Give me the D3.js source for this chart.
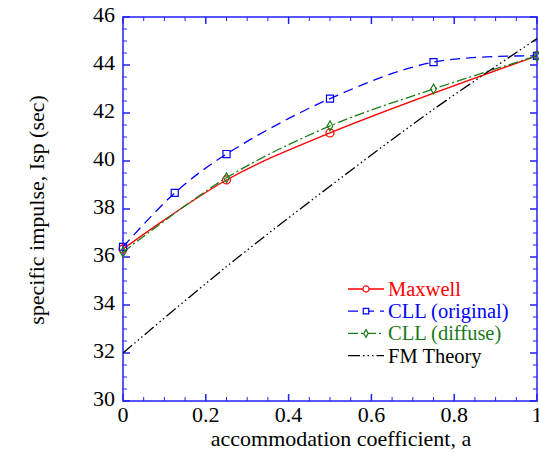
<!DOCTYPE html>
<html>
<head>
<meta charset="utf-8">
<script src="https://cdn.jsdelivr.net/npm/d3@7"></script>
<style>
  body { margin: 0; background: #fff; }
</style>
</head>
<body>
<div id="chart"></div>
<script>
// values
const maxwellX = [0, 0.25, 0.5, 1];
const maxwellY = [36.33, 39.21, 41.17, 44.38];
const cllOrigX = [0, 0.125, 0.25, 0.5, 0.75, 1];
const cllOrigY = [36.42, 38.67, 40.29, 42.6, 44.12, 44.38];
const cllDiffX = [0, 0.25, 0.5, 0.75, 1];
const cllDiffY = [36.2, 39.3, 41.46, 43.0, 44.38];
const fmX = [0, 0.25, 0.5, 0.75, 1];
const fmY = [32.0, 35.6, 38.95, 42.15, 45.1];
const xTicks = [0, 0.2, 0.4, 0.6, 0.8, 1];
const yTicks = [30, 32, 34, 36, 38, 40, 42, 44, 46];

const width = 539, height = 455;
const serif = "Liberation Serif, Times New Roman, serif";
const x = d3.scaleLinear().domain([0, 1]).range([123, 537]);
const y = d3.scaleLinear().domain([30, 46]).range([401, 17]);
const axisColor = "#2020ff";

const svg = d3.select("#chart").append("svg")
    .attr("width", width)
    .attr("height", height)
    .style("font-family", serif);

// frame
svg.append("rect")
    .attr("x", x(0)).attr("y", y(46))
    .attr("width", x(1) - x(0)).attr("height", y(30) - y(46))
    .attr("fill", "none").attr("stroke", axisColor).attr("stroke-width", 1.5);

// ticks pointing inward on all four sides
const xMinor = d3.range(0, 1.0001, 0.05);
const yMinor = d3.range(30, 46.0001, 0.5);
const tickG = svg.append("g").attr("stroke", axisColor).attr("stroke-width", 1);
xMinor.forEach(v => {
    const major = Math.abs(v * 5 - Math.round(v * 5)) < 1e-6;
    const len = major ? 7 : 4;
    tickG.append("line").attr("x1", x(v)).attr("x2", x(v)).attr("y1", y(30)).attr("y2", y(30) - len)
        .attr("stroke-width", major ? 1.5 : 1);
    tickG.append("line").attr("x1", x(v)).attr("x2", x(v)).attr("y1", y(46)).attr("y2", y(46) + len)
        .attr("stroke-width", major ? 1.5 : 1);
});
yMinor.forEach(v => {
    const major = Math.abs(v / 2 - Math.round(v / 2)) < 1e-6;
    const len = major ? 7 : 4;
    tickG.append("line").attr("y1", y(v)).attr("y2", y(v)).attr("x1", x(0)).attr("x2", x(0) + len)
        .attr("stroke-width", major ? 1.5 : 1);
    tickG.append("line").attr("y1", y(v)).attr("y2", y(v)).attr("x1", x(1)).attr("x2", x(1) - len)
        .attr("stroke-width", major ? 1.5 : 1);
});

// tick labels
svg.append("g").selectAll("text").data(xTicks).enter().append("text")
    .attr("x", d => x(d)).attr("y", 422)
    .attr("text-anchor", "middle").attr("font-size", 22)
    .style("font-family", serif)
    .text(d => d3.format("")(d));
svg.append("g").selectAll("text").data(yTicks).enter().append("text")
    .attr("x", 115).attr("y", d => y(d) + 5)
    .attr("text-anchor", "end").attr("font-size", 22)
    .style("font-family", serif)
    .text(d => d);

// axis titles
svg.append("text").attr("x", 341).attr("y", 446)
    .attr("text-anchor", "middle").attr("font-size", 22)
    .style("font-family", serif)
    .text("accommodation coefficient, a");
svg.append("text")
    .attr("transform", "translate(44," + 210 + ") rotate(-90)")
    .attr("text-anchor", "middle").attr("font-size", 22)
    .style("font-family", serif)
    .text("specific impulse, Isp (sec)");

// series
const series = [
    { name: "Maxwell", xs: maxwellX, ys: maxwellY, color: "#ff0000", dash: null, marker: "circle" },
    { name: "CLL (original)", xs: cllOrigX, ys: cllOrigY, color: "#0000ff", dash: "10,6", marker: "square" },
    { name: "CLL (diffuse)", xs: cllDiffX, ys: cllDiffY, color: "#1a7a1a", dash: "10,3,2,3", marker: "diamond" },
    { name: "FM Theory", xs: fmX, ys: fmY, color: "#000000", dash: "12,3,1.5,3,1.5,3,1.5,3", marker: null }
];

const line = d3.line().x(d => x(d[0])).y(d => y(d[1])).curve(d3.curveCatmullRom.alpha(0.5));
const symbols = { circle: d3.symbolCircle, square: d3.symbolSquare, diamond: d3.symbolDiamond };
const symSize = { circle: 50, square: 50, diamond: 28 };

const plot = svg.append("g");
series.forEach(s => {
    const pts = s.xs.map((v, i) => [v, s.ys[i]]);
    plot.append("path")
        .attr("d", line(pts))
        .attr("fill", "none")
        .attr("stroke", s.color)
        .attr("stroke-width", 1.3)
        .attr("stroke-dasharray", s.dash);
    if (s.marker) {
        plot.selectAll(null).data(pts).enter().append("path")
            .attr("d", d3.symbol().type(symbols[s.marker]).size(symSize[s.marker]))
            .attr("transform", d => "translate(" + x(d[0]) + "," + y(d[1]) + ")")
            .attr("fill", "none").attr("stroke", s.color).attr("stroke-width", 1.2);
    }
});

// legend
const legend = svg.append("g");
series.forEach((s, i) => {
    const ly = 289 + i * 22.2;
    legend.append("line")
        .attr("x1", 348).attr("x2", 384).attr("y1", ly).attr("y2", ly)
        .attr("stroke", s.color).attr("stroke-width", 1.3)
        .attr("stroke-dasharray", s.dash);
    if (s.marker) {
        legend.append("path")
            .attr("d", d3.symbol().type(symbols[s.marker]).size(symSize[s.marker] * 0.6))
            .attr("transform", "translate(366," + ly + ")")
            .attr("fill", "white").attr("stroke", s.color).attr("stroke-width", 1.2);
    }
    legend.append("text")
        .attr("x", 388).attr("y", ly + 7)
        .attr("font-size", 20.5)
        .style("font-family", serif)
        .attr("fill", s.color)
        .text(s.name);
});
</script>
</body>
</html>
